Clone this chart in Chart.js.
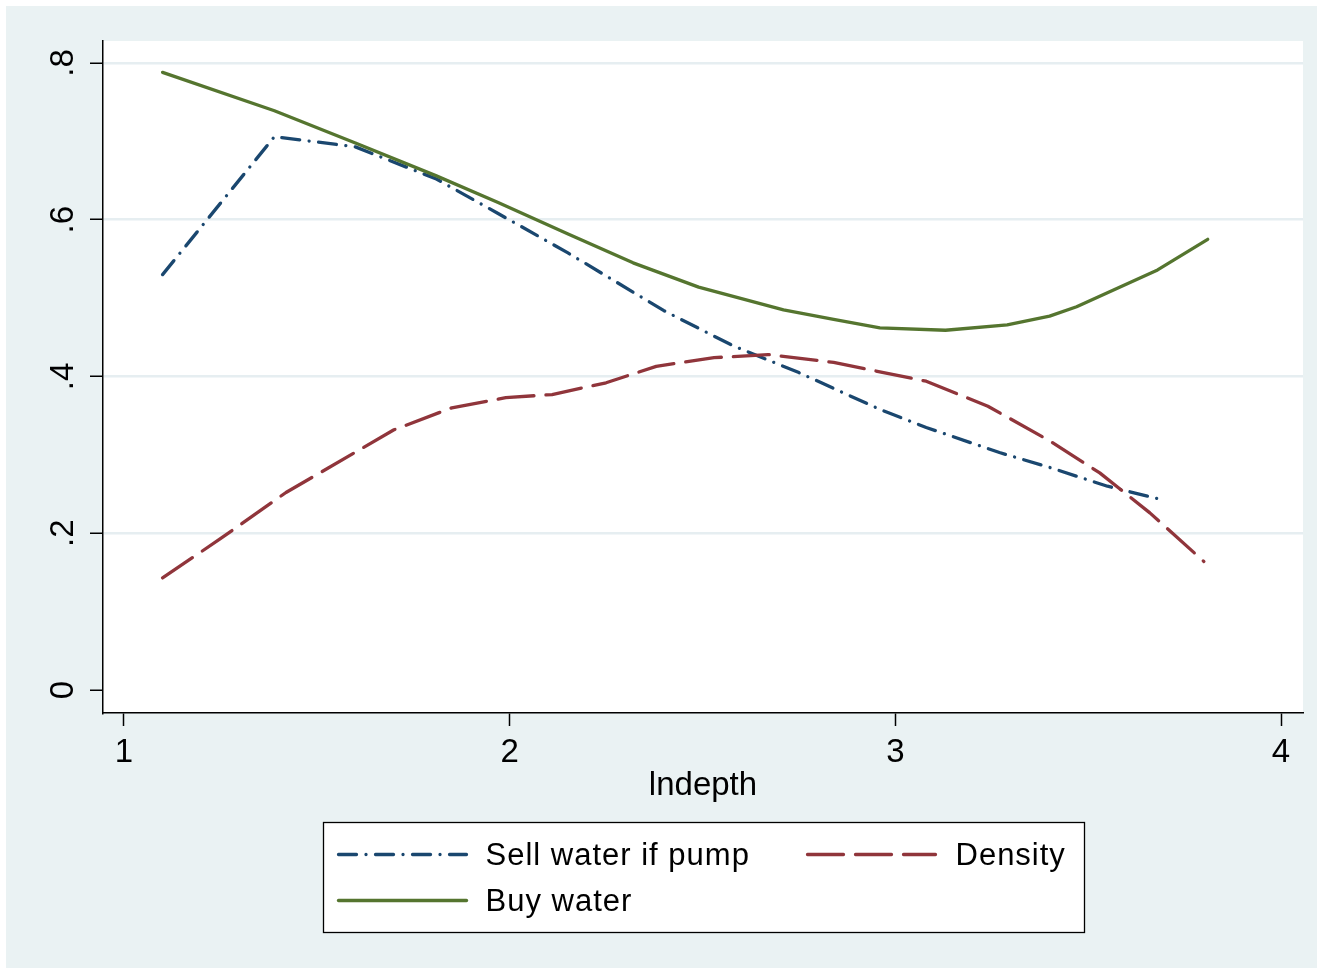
<!DOCTYPE html>
<html>
<head>
<meta charset="utf-8">
<script src="https://cdn.jsdelivr.net/npm/chart.js@4.4.1/dist/chart.umd.min.js"></script>
<style>
  html, body { margin: 0; padding: 0; background: #ffffff; }
  #wrap { width: 1323px; height: 974px; }
</style>
</head>
<body>
<div id="wrap"><canvas id="c" width="1323" height="974"></canvas></div>
<script>
// Series: smoothed shares against log depth
const seriesNames = ['Sell water if pump', 'Density', 'Buy water'];

const sellX = [1.10, 1.39, 1.60, 1.81, 1.97, 2.15, 2.40, 2.58, 2.75, 2.96, 3.08, 3.27, 3.40, 3.55, 3.69];
const sellY = [0.530, 0.706, 0.693, 0.652, 0.608, 0.558, 0.484, 0.439, 0.405, 0.358, 0.335, 0.303, 0.284, 0.260, 0.243];

const densX = [1.10, 1.25, 1.42, 1.70, 1.85, 1.99, 2.11, 2.25, 2.38, 2.53, 2.67, 2.84, 2.95, 3.08, 3.24, 3.40, 3.53, 3.66, 3.80];
const densY = [0.143, 0.193, 0.252, 0.332, 0.360, 0.373, 0.377, 0.392, 0.413, 0.424, 0.428, 0.418, 0.407, 0.394, 0.362, 0.318, 0.277, 0.226, 0.164];

const buyX = [1.10, 1.39, 1.60, 1.81, 1.97, 2.15, 2.32, 2.49, 2.71, 2.84, 2.96, 3.13, 3.29, 3.40, 3.47, 3.68, 3.81];
const buyY = [0.788, 0.739, 0.698, 0.656, 0.622, 0.582, 0.545, 0.514, 0.485, 0.473, 0.462, 0.459, 0.466, 0.477, 0.489, 0.536, 0.575];

const xTicks = [1, 2, 3, 4];
const xTickLabels = ['1', '2', '3', '4'];
const yTicks = [0, 0.2, 0.4, 0.6, 0.8];
const yTickLabels = ['0', '.2', '.4', '.6', '.8'];
const xTitle = 'lndepth';

// Axis ranges (plot region extends a little beyond the outer ticks)
const X_MIN = 0.94555, X_MAX = 4.05704;
const Y_MIN = -0.029346, Y_MAX = 0.82807;

const FONT = '"Liberation Sans", Arial, Helvetica, sans-serif';
const INK = '#000000';
const REGION = '#EAF2F3';
const GRID = '#E6EEF1';
const COLORS = ['#1A476F', '#90353B', '#55752F'];
const DASHES = [[18, 9.5, 0.01, 9.5], [36, 12], []];

const toPoints = (xs, ys) => xs.map((x, i) => ({ x: x, y: ys[i] }));
const seriesData = [toPoints(sellX, sellY), toPoints(densX, densY), toPoints(buyX, buyY)];

const datasets = seriesNames.map((name, i) => ({
  label: name,
  data: seriesData[i],
  borderColor: COLORS[i],
  backgroundColor: COLORS[i],
  borderWidth: 3.3,
  borderDash: DASHES[i],
  borderCapStyle: 'round',
  borderJoinStyle: 'round',
  pointRadius: 0,
  pointHoverRadius: 0,
  fill: false,
  tension: 0,
  order: seriesNames.length - i
}));

// Light graph region with a white plot region inside it
const backdrop = {
  id: 'backdrop',
  beforeDraw(chart) {
    const { ctx, width, height, chartArea } = chart;
    ctx.save();
    ctx.fillStyle = '#ffffff';
    ctx.fillRect(0, 0, width, height);
    ctx.fillStyle = REGION;
    ctx.fillRect(6, 6, width - 12, height - 12);
    ctx.fillStyle = '#ffffff';
    ctx.fillRect(chartArea.left, chartArea.top, chartArea.right - chartArea.left, chartArea.bottom - chartArea.top);
    ctx.restore();
  }
};

// Boxed two-column key below the x axis title
const keyBox = {
  id: 'keyBox',
  afterDraw(chart) {
    const { ctx, chartArea } = chart;
    const ds = chart.data.datasets;
    const boxW = 761, boxH = 110;
    const cx = (chartArea.left + chartArea.right) / 2;
    const left = Math.round(cx - boxW / 2) + 0.5;
    const top = 822.5;
    ctx.save();
    ctx.fillStyle = '#ffffff';
    ctx.fillRect(left, top, boxW, boxH);
    ctx.strokeStyle = INK;
    ctx.lineWidth = 1.3;
    ctx.strokeRect(left, top, boxW, boxH);

    const cells = [
      { i: 0, sx: 15, tx: 162, y: 32 },
      { i: 1, sx: 484, tx: 632, y: 32 },
      { i: 2, sx: 15, tx: 162, y: 78 }
    ];
    const sampleLen = 128;
    cells.forEach(c => {
      const d = ds[c.i];
      const y = top + c.y;
      ctx.save();
      ctx.strokeStyle = d.borderColor;
      ctx.lineWidth = d.borderWidth;
      ctx.lineCap = 'round';
      ctx.setLineDash(d.borderDash);
      ctx.beginPath();
      ctx.moveTo(left + c.sx, y);
      ctx.lineTo(left + c.sx + sampleLen, y);
      ctx.stroke();
      ctx.restore();

      ctx.fillStyle = INK;
      ctx.font = '31px ' + FONT;
      if ('letterSpacing' in ctx) ctx.letterSpacing = '1px';
      ctx.textAlign = 'left';
      ctx.textBaseline = 'middle';
      ctx.fillText(d.label, left + c.tx, y + 2);
    });
    ctx.restore();
  }
};

const PLOT_TOP = 41, PLOT_BOTTOM = 713, PLOT_LEFT = 103, PLOT_RIGHT = 1303;
const X_AXIS_H = 95;

new Chart(document.getElementById('c'), {
  type: 'line',
  data: { datasets: datasets },
  plugins: [backdrop, keyBox],
  options: {
    responsive: false,
    animation: false,
    events: [],
    layout: {
      padding: { top: PLOT_TOP, left: 0, right: 1323 - PLOT_RIGHT, bottom: 974 - PLOT_BOTTOM - X_AXIS_H }
    },
    plugins: {
      legend: { display: false },
      tooltip: { enabled: false },
      title: { display: false }
    },
    scales: {
      x: {
        type: 'linear',
        min: X_MIN,
        max: X_MAX,
        afterBuildTicks: s => { s.ticks = xTicks.map(v => ({ value: v })); },
        afterFit: s => { s.height = X_AXIS_H; },
        ticks: {
          font: { family: FONT, size: 33 },
          color: INK,
          padding: 7,
          maxRotation: 0,
          minRotation: 0,
          callback: (v, i) => xTickLabels[i]
        },
        grid: {
          drawOnChartArea: false,
          drawTicks: true,
          tickLength: 13,
          tickColor: INK,
          tickWidth: 1.5
        },
        border: { display: true, color: INK, width: 1.5 },
        title: {
          display: true,
          text: xTitle,
          font: { family: FONT, size: 33 },
          color: INK,
          padding: { top: 0, bottom: 2 }
        }
      },
      y: {
        type: 'linear',
        min: Y_MIN,
        max: Y_MAX,
        afterBuildTicks: s => { s.ticks = yTicks.map(v => ({ value: v })); },
        afterFit: s => { s.width = PLOT_LEFT; },
        ticks: {
          font: { family: FONT, size: 33 },
          color: INK,
          padding: 12,
          minRotation: 90,
          maxRotation: 90,
          crossAlign: 'center',
          callback: (v, i) => yTickLabels[i]
        },
        grid: {
          color: c => (c.tick && c.tick.value === 0) ? 'rgba(0,0,0,0)' : GRID,
          lineWidth: 2.5,
          drawTicks: true,
          tickLength: 13,
          tickColor: INK,
          tickWidth: 1.5
        },
        border: { display: true, color: INK, width: 1.5 }
      }
    }
  }
});
</script>
</body>
</html>
